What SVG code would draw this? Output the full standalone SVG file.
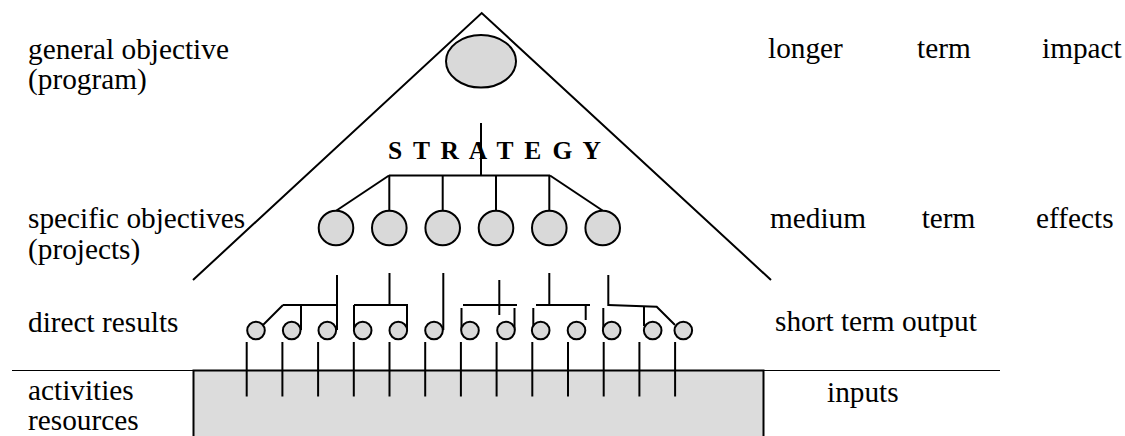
<svg xmlns="http://www.w3.org/2000/svg" width="1125" height="436" viewBox="0 0 1125 436">
<style>
.t{font-size:29.3px;fill:#000}
.s{font-size:25.5px;font-weight:bold;letter-spacing:2.4px;fill:#000}
.ln{stroke:#000;stroke-width:2;fill:none}
.thin{stroke:#000;stroke-width:1.2;fill:none}
.c{fill:#d9d9d9;stroke:#000;stroke-width:2}
</style>
<rect width="1125" height="436" fill="#fff"/>
<g id="activities-box">
<rect x="193.5" y="370.5" width="570" height="80" fill="#dcdcdc" stroke="#000" stroke-width="2"/>
</g>
<line class="thin" x1="12" y1="370.5" x2="1000" y2="370.5"/>
<g id="pyramid">
<polyline class="ln" points="193,280 481.7,13 771,280"/>
</g>
<g id="connectors">
<line class="ln" x1="481" y1="123" x2="481" y2="176"/>
<line class="ln" x1="389" y1="175.5" x2="550" y2="175.5"/>
<line class="ln" x1="389" y1="175.5" x2="336.5" y2="210.5"/>
<line class="ln" x1="550" y1="175.5" x2="602.5" y2="210.5"/>
<line class="ln" x1="389.3" y1="175.5" x2="389.3" y2="211"/>
<line class="ln" x1="442.7" y1="175.5" x2="442.7" y2="211"/>
<line class="ln" x1="496" y1="175.5" x2="496" y2="211"/>
<line class="ln" x1="549.3" y1="175.5" x2="549.3" y2="211"/>
<line class="ln" x1="337" y1="275" x2="337" y2="330"/>
<line class="ln" x1="283" y1="305" x2="337" y2="305"/>
<line class="ln" x1="301" y1="305" x2="301" y2="330"/>
<line class="ln" x1="283" y1="305" x2="263" y2="325"/>
<line class="ln" x1="389.5" y1="273" x2="389.5" y2="305"/>
<line class="ln" x1="354" y1="305" x2="408" y2="305"/>
<line class="ln" x1="354" y1="305" x2="354" y2="330"/>
<line class="ln" x1="407" y1="305" x2="407" y2="330"/>
<line class="ln" x1="443.3" y1="273" x2="443.3" y2="330"/>
<line class="ln" x1="499.3" y1="280" x2="499.3" y2="315"/>
<line class="ln" x1="463" y1="305" x2="517" y2="305"/>
<line class="ln" x1="461.5" y1="308" x2="461.5" y2="330"/>
<line class="ln" x1="514.5" y1="308" x2="514.5" y2="330"/>
<line class="ln" x1="549.3" y1="273" x2="549.3" y2="305"/>
<line class="ln" x1="536" y1="305" x2="590" y2="305"/>
<line class="ln" x1="533.3" y1="308" x2="533.3" y2="330"/>
<line class="ln" x1="585.7" y1="305" x2="585.7" y2="320"/>
<line class="ln" x1="608.3" y1="275" x2="608.3" y2="306"/>
<polyline class="ln" points="608.3,305 656.7,306.7 675,325"/>
<line class="ln" x1="644" y1="306" x2="644" y2="326"/>
<line class="ln" x1="603.3" y1="308" x2="603.3" y2="330"/>
<line class="ln" x1="246.7" y1="342" x2="246.7" y2="396.5"/>
<line class="ln" x1="282.4" y1="342" x2="282.4" y2="396.5"/>
<line class="ln" x1="318.1" y1="342" x2="318.1" y2="396.5"/>
<line class="ln" x1="353.8" y1="342" x2="353.8" y2="396.5"/>
<line class="ln" x1="389.5" y1="342" x2="389.5" y2="396.5"/>
<line class="ln" x1="425.2" y1="342" x2="425.2" y2="396.5"/>
<line class="ln" x1="460.9" y1="342" x2="460.9" y2="396.5"/>
<line class="ln" x1="496.6" y1="342" x2="496.6" y2="396.5"/>
<line class="ln" x1="532.3" y1="342" x2="532.3" y2="396.5"/>
<line class="ln" x1="568" y1="342" x2="568" y2="396.5"/>
<line class="ln" x1="603.7" y1="342" x2="603.7" y2="396.5"/>
<line class="ln" x1="639.4" y1="342" x2="639.4" y2="396.5"/>
<line class="ln" x1="675.1" y1="342" x2="675.1" y2="396.5"/>
</g>
<g id="general-objective"><ellipse class="c" cx="481" cy="61.3" rx="35" ry="26.3"/></g>
<g id="specific-objectives">
<circle class="c" cx="336" cy="228" r="17.3"/>
<circle class="c" cx="389.3" cy="228" r="17.3"/>
<circle class="c" cx="442.7" cy="228" r="17.3"/>
<circle class="c" cx="496" cy="228" r="17.3"/>
<circle class="c" cx="549.3" cy="228" r="17.3"/>
<circle class="c" cx="602.7" cy="228" r="17.3"/>
</g>
<g id="direct-results">
<circle class="c" cx="256" cy="330.5" r="8.8"/>
<circle class="c" cx="291.7" cy="330.5" r="8.8"/>
<circle class="c" cx="327.3" cy="330.5" r="8.8"/>
<circle class="c" cx="362.7" cy="330.5" r="8.8"/>
<circle class="c" cx="398.3" cy="330.5" r="8.8"/>
<circle class="c" cx="434" cy="330.5" r="8.8"/>
<circle class="c" cx="470" cy="330.5" r="8.8"/>
<circle class="c" cx="506" cy="330.5" r="8.8"/>
<circle class="c" cx="540.7" cy="330.5" r="8.8"/>
<circle class="c" cx="576.5" cy="330.5" r="8.8"/>
<circle class="c" cx="611.7" cy="330.5" r="8.8"/>
<circle class="c" cx="652.7" cy="330.5" r="8.8"/>
<circle class="c" cx="683.3" cy="330.5" r="8.8"/>
</g>
<g font-family="'Liberation Serif', 'DejaVu Serif', serif">
<g id="strategy-label"><text class="s" x="388" y="159">S T R A T E G Y</text></g>
<g id="left-labels">
<text class="t" x="28" y="59">general objective</text>
<text class="t" x="28" y="89">(program)</text>
<text class="t" x="28" y="228">specific objectives</text>
<text class="t" x="28" y="259">(projects)</text>
<text class="t" x="28" y="332">direct results</text>
<text class="t" x="28" y="400">activities</text>
<text class="t" x="28" y="430">resources</text>
</g>
<g id="right-labels">
<text class="t" y="58"><tspan x="768">longer</tspan><tspan x="917">term</tspan><tspan x="1042">impact</tspan></text>
<text class="t" y="228"><tspan x="770">medium</tspan><tspan x="921.7">term</tspan><tspan x="1036">effects</tspan></text>
<text class="t" x="775" y="331">short term output</text>
<text class="t" x="827" y="402">inputs</text>
</g>
</g>
</svg>
